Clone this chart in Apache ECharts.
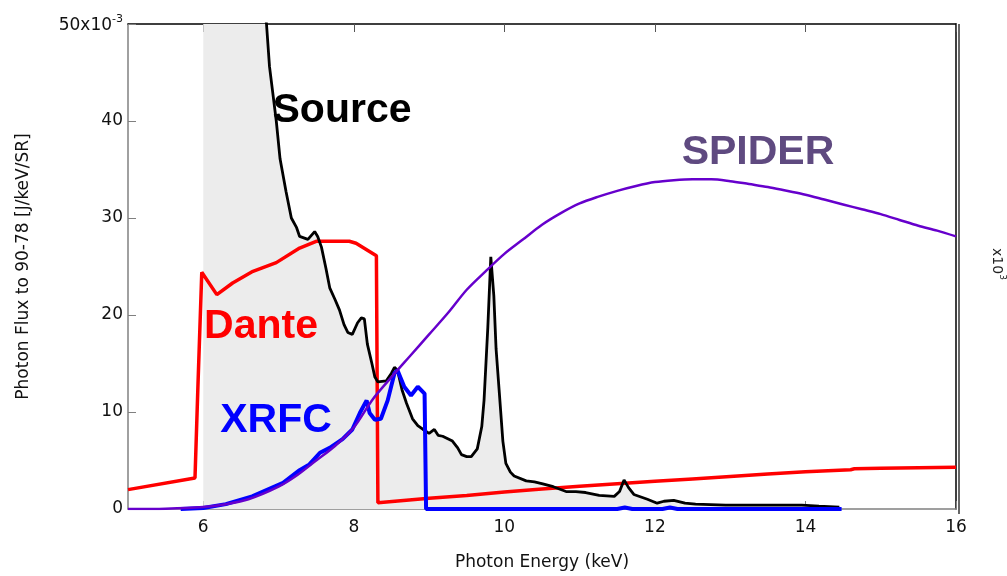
<!DOCTYPE html>
<html>
<head>
<meta charset="utf-8">
<script src="https://cdn.jsdelivr.net/npm/echarts/dist/echarts.min.js"></script>
<style>
html,body{margin:0;padding:0;background:#fff;overflow:hidden;}
#chart{width:1007px;height:576px;}
</style>
</head>
<body>
<div id="chart"></div>
<script>
// Tick values
const xTicks = [6, 8, 10, 12, 14, 16];

// Source (black, filled) [keV, 1e-3 J/keV/SR]
const sourceData = [
  [6.0, 95],[6.5, 72],[6.84, 50],[6.88, 45.6],[6.97, 40],[7.02, 36.1],[7.10, 32.7],[7.17, 30.0],
  [7.24, 29.0],[7.28, 28.1],[7.39, 27.8],[7.48, 28.6],[7.52, 28.1],[7.57, 27.0],[7.63, 24.8],
  [7.68, 22.8],[7.75, 21.6],[7.81, 20.5],[7.87, 19.0],[7.92, 18.2],[7.98, 18.0],[8.05, 19.2],
  [8.10, 19.7],[8.14, 19.6],[8.18, 17.0],[8.24, 15.0],[8.28, 13.6],[8.32, 13.1],[8.43, 13.2],
  [8.50, 14.0],[8.54, 14.6],[8.58, 14.3],[8.64, 12.3],[8.70, 10.9],[8.78, 9.3],[8.85, 8.6],
  [8.92, 8.2],[9.0, 7.8],[9.07, 8.2],[9.12, 7.6],[9.18, 7.5],[9.31, 7.0],[9.38, 6.3],[9.43, 5.6],
  [9.50, 5.4],[9.56, 5.4],[9.64, 6.2],[9.70, 8.5],[9.73, 11.2],[9.78, 18.7],[9.82, 26.0],
  [9.86, 22.0],[9.89, 16.5],[9.93, 12.3],[9.98, 7.0],[10.02, 4.7],[10.08, 3.8],[10.13, 3.4],
  [10.29, 2.9],[10.40, 2.8],[10.51, 2.6],[10.65, 2.3],[10.82, 1.8],[10.95, 1.8],[11.08, 1.7],
  [11.26, 1.4],[11.46, 1.3],[11.53, 1.8],[11.59, 3.0],[11.65, 2.2],[11.72, 1.5],[11.90, 1.0],
  [12.03, 0.6],[12.12, 0.8],[12.25, 0.9],[12.40, 0.6],[12.54, 0.5],[12.94, 0.4],[13.95, 0.4],
  [14.18, 0.3],[14.45, 0.2]
];

// Dante (red)
const danteData = [
  [5.0, 2.0],[5.89, 3.2],[5.93, 12.9],[5.98, 24.4],[6.0, 24.4],[6.18, 22.1],[6.39, 23.3],
  [6.66, 24.5],[6.97, 25.4],[7.28, 26.9],[7.50, 27.6],[7.94, 27.6],[8.03, 27.4],[8.30, 26.1],
  [8.32, 0.65],[9.0, 1.1],[9.5, 1.4],[10.0, 1.75],[10.5, 2.05],[11.0, 2.35],[11.5, 2.6],
  [12.0, 2.85],[12.5, 3.1],[13.0, 3.35],[13.5, 3.6],[14.0, 3.85],[14.6, 4.05],[14.65, 4.15],
  [15.0, 4.2],[15.5, 4.25],[16.0, 4.3]
];

// XRFC (blue)
const xrfcData = [
  [5.7, 0],[6.0, 0.1],[6.3, 0.5],[6.65, 1.3],[7.06, 2.7],[7.28, 4.0],[7.41, 4.6],[7.55, 5.8],
  [7.68, 6.3],[7.85, 7.2],[7.98, 8.2],[8.08, 9.9],[8.17, 11.2],[8.21, 9.9],[8.28, 9.2],[8.36, 9.3],
  [8.45, 11.2],[8.54, 14.0],[8.58, 14.3],[8.67, 12.6],[8.76, 11.7],[8.85, 12.6],[8.94, 11.9],
  [8.96, 0],[11.5, 0],[11.6, 0.15],[11.7, 0],[12.1, 0],[12.2, 0.15],[12.3, 0],[14.48, 0]
];

// SPIDER (purple)
const spiderData = [
  [5.0, 0],[5.5, 0.03],[6.0, 0.2],[6.3, 0.5],[6.6, 1.0],[7.0, 2.3],[7.25, 3.5],[7.5, 5.0],
  [7.75, 6.5],[8.0, 8.4],[8.25, 11.3],[8.5, 13.6],[8.75, 15.8],[9.0, 18.0],[9.25, 20.2],
  [9.5, 22.6],[9.75, 24.5],[10.0, 26.3],[10.25, 27.8],[10.5, 29.3],[10.75, 30.5],[11.0, 31.5],
  [11.25, 32.2],[11.5, 32.8],[11.75, 33.3],[12.0, 33.7],[12.25, 33.9],[12.5, 34.0],[12.75, 34.0],
  [13.0, 33.8],[13.25, 33.5],[13.5, 33.2],[13.75, 32.8],[14.0, 32.4],[14.25, 31.9],[14.5, 31.4],
  [14.75, 30.9],[15.0, 30.4],[15.25, 29.8],[15.5, 29.2],[15.75, 28.7],[16.0, 28.1]
];

const labelFont = 'DejaVu Sans';

const chart = echarts.init(document.getElementById('chart'), null, {renderer: 'canvas', width: 1007, height: 576});
chart.setOption({
  animation: false,
  backgroundColor: '#ffffff',
  grid: {left: 128, right: 51, top: 24, bottom: 63, containLabel: false},
  xAxis: [
    {
      type: 'value', position: 'bottom', min: 5, max: 16,
      name: 'Photon Energy (keV)', nameLocation: 'middle', nameGap: 45,
      nameTextStyle: {fontFamily: labelFont, fontSize: 17, color: '#111'},
      axisLine: {show: true, onZero: false, lineStyle: {color: '#808080', width: 1.5}},
      axisTick: {show: true, inside: true, length: 8, customValues: xTicks, lineStyle: {color: '#808080'}},
      axisLabel: {show: true, customValues: xTicks, margin: 10, fontFamily: labelFont, fontSize: 17, color: '#111'},
      splitLine: {show: false}
    },
    {
      type: 'value', position: 'top', min: 5, max: 16,
      axisLine: {show: true, onZero: false, lineStyle: {color: '#000', width: 1.5}},
      axisTick: {show: true, inside: true, length: 8, customValues: xTicks, lineStyle: {color: '#555'}},
      axisLabel: {show: false},
      splitLine: {show: false}
    }
  ],
  yAxis: [
    {
      type: 'value', position: 'left', min: 0, max: 50, interval: 10,
      name: 'Photon Flux to 90-78 [J/keV/SR]', nameLocation: 'middle', nameGap: 96,
      nameTextStyle: {fontFamily: labelFont, fontSize: 17, color: '#111'},
      axisLine: {show: true, onZero: false, lineStyle: {color: '#808080', width: 1.5}},
      axisTick: {show: true, inside: true, length: 8, lineStyle: {color: '#808080'}},
      axisLabel: {
        show: true, margin: 5, fontFamily: labelFont, fontSize: 17, color: '#111',
        formatter: function (v) { return v === 50 ? '{a|50x10}{b|-3}' : String(v); },
        rich: {
          a: {fontFamily: labelFont, fontSize: 17, color: '#111', verticalAlign: 'bottom'},
          b: {fontFamily: labelFont, fontSize: 11, color: '#111', verticalAlign: 'bottom', padding: [0, 0, 10, 0]}
        }
      },
      splitLine: {show: false}
    },
    {
      type: 'value', position: 'right', min: 0, max: 50, interval: 10,
      axisLine: {show: true, onZero: false, lineStyle: {color: '#000', width: 1.5}},
      axisTick: {show: false},
      axisLabel: {show: false},
      splitLine: {show: false}
    }
  ],
  series: [
    {
      name: 'SourceFill', type: 'line', data: sourceData, xAxisIndex: 0, yAxisIndex: 0,
      showSymbol: false, symbol: 'none', clip: true, z: 1,
      lineStyle: {width: 0, opacity: 0},
      areaStyle: {color: '#ececec', opacity: 1}
    },
    {
      name: 'Dante', type: 'line', data: danteData, showSymbol: false, symbol: 'none', clip: true, z: 2,
      lineStyle: {color: '#ff0000', width: 3.5}
    },
    {
      name: 'Source', type: 'line', data: sourceData, showSymbol: false, symbol: 'none', clip: true, z: 3,
      lineStyle: {color: '#000000', width: 2.8}
    },
    {
      name: 'XRFC', type: 'line', data: xrfcData, showSymbol: false, symbol: 'none', clip: true, z: 4,
      lineStyle: {color: '#0000ff', width: 4}
    },
    {
      name: 'SPIDER', type: 'line', data: spiderData, showSymbol: false, symbol: 'none', clip: true, z: 5,
      smooth: 0.3,
      lineStyle: {color: '#6600cc', width: 2.5}
    }
  ],
  graphic: [
    {type: 'text', x: 342, y: 111, z: 100, style: {text: 'Source', font: 'bold 41px "Liberation Sans", Arial', fill: '#000', textAlign: 'center', textVerticalAlign: 'middle'}},
    {type: 'text', x: 261, y: 327, z: 100, style: {text: 'Dante', font: 'bold 41px "Liberation Sans", Arial', fill: '#ff0000', textAlign: 'center', textVerticalAlign: 'middle'}},
    {type: 'text', x: 276, y: 421, z: 100, style: {text: 'XRFC', font: 'bold 41px "Liberation Sans", Arial', fill: '#0000ff', textAlign: 'center', textVerticalAlign: 'middle'}},
    {type: 'text', x: 758, y: 153, z: 100, style: {text: 'SPIDER', font: 'bold 41px "Liberation Sans", Arial', fill: '#5f4a80', textAlign: 'center', textVerticalAlign: 'middle'}},
    {type: 'line', z: 100, shape: {x1: 959, y1: 24, x2: 959, y2: 514}, style: {stroke: '#000', lineWidth: 1.2}},
    {type: 'text', x: 998, y: 264, rotation: -Math.PI / 2, z: 100,
      style: {text: '{a|x10}{b|3}', textAlign: 'center', textVerticalAlign: 'middle',
        rich: {a: {fontFamily: labelFont, fontSize: 14, fill: '#222', verticalAlign: 'bottom'},
               b: {fontFamily: labelFont, fontSize: 9, fill: '#222', verticalAlign: 'bottom', padding: [0, 0, 8, 0]}}}}
  ]
});
</script>
</body>
</html>
